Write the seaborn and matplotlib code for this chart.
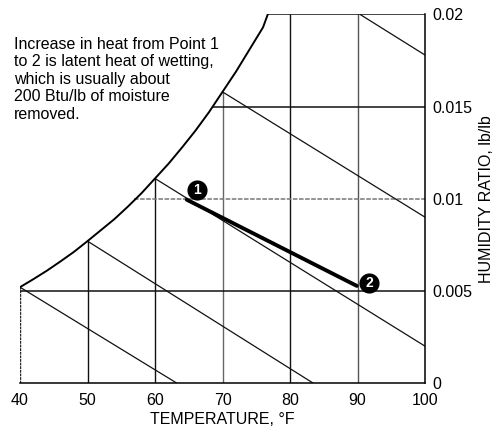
import matplotlib
matplotlib.use("Agg")
import matplotlib.pyplot as plt
import seaborn as sns

sns.set_theme(style="white")
plt.rcParams['font.family'] = ['Liberation Sans', 'DejaVu Sans']

# Saturation curve (dry bulb °F, humidity ratio lb/lb)
sat_t = [40, 42, 44, 46, 48, 50, 52, 54, 56, 58, 60, 62, 64, 66, 68, 70,
         72, 74, 76, 76.7]
sat_w = [0.0052, 0.00564, 0.0061, 0.0066, 0.00712, 0.0077, 0.0083, 0.0089,
         0.00958, 0.0103, 0.0111, 0.0119, 0.01278, 0.0137, 0.0147, 0.0158,
         0.0169, 0.0181, 0.0193, 0.0200]

# Constant dry-bulb lines: temperature and top (humidity ratio)
db_t = [40, 50, 60, 70, 80, 90]
db_top = [0.0052, 0.0077, 0.0111, 0.0158, 0.0200, 0.0200]
db_color = ['#222222', '#111111', '#111111', '#666666', '#111111', '#555555']

# Constant humidity-ratio lines: value and start temperature
hr_w = [0.005, 0.010, 0.015, 0.020]
hr_start = [40, 56.9, 68.4, 76.7]

# Wet-bulb lines: start and end points
wb_x0 = [40, 50, 60, 70, 90.4]
wb_y0 = [0.0052, 0.0077, 0.0111, 0.0158, 0.0200]
wb_x1 = [63.2, 83.4, 100, 100, 100]
wb_y1 = [0.0, 0.0, 0.0020, 0.0090, 0.0178]

# Process line (point 1 -> point 2)
proc_t = [64.7, 89.9]
proc_w = [0.00995, 0.00527]
pt_t = [66.2, 91.7]
pt_w = [0.01045, 0.00545]
pt_lbl = ['1', '2']

x_ticks = [40, 50, 60, 70, 80, 90, 100]
y_ticks = [0, 0.005, 0.01, 0.015, 0.02]
y_tick_lbl = ['0', '0.005', '0.01', '0.015', '0.02']

note = ("Increase in heat from Point 1\nto 2 is latent heat of wetting,\n"
        "which is usually about\n200 Btu/lb of moisture\nremoved.")

fig = plt.figure(figsize=(4.95, 4.30), dpi=100)
ax = fig.add_axes([20/495, 47/430, 405/495, 368.5/430])

# dry-bulb verticals
for t, top, c in zip(db_t, db_top, db_color):
    ls = (0, (2, 0.6)) if t == 40 else '-'
    ax.vlines(t, 0, top, color=c, lw=1.0, linestyles=ls)

# humidity ratio horizontals
for w, s in zip(hr_w, hr_start):
    if w == 0.010:
        ax.hlines(w, s, 100, color='#777777', lw=1.1, linestyles=(0, (3, 1)))
    else:
        ax.hlines(w, s, 100, color='#111111', lw=1.1)

# wet-bulb lines
for x0, y0, x1, y1 in zip(wb_x0, wb_y0, wb_x1, wb_y1):
    sns.lineplot(x=[x0, x1], y=[y0, y1], ax=ax, color='#111111', lw=0.9,
                 sort=False, estimator=None)

# saturation curve
sns.lineplot(x=sat_t, y=sat_w, ax=ax, color='black', lw=1.4, sort=False,
             estimator=None)

# process line
sns.lineplot(x=proc_t, y=proc_w, ax=ax, color='black', lw=2.8, sort=False,
             estimator=None)

# point markers
sns.scatterplot(x=pt_t, y=pt_w, ax=ax, color='black', s=210, linewidth=0,
                zorder=5)
for t, w, l in zip(pt_t, pt_w, pt_lbl):
    ax.text(t, w, l, color='white', fontsize=10, fontweight='bold',
            ha='center', va='center', zorder=6)

ax.set_xlim(40, 100)
ax.set_ylim(0, 0.02)
ax.set_xticks(x_ticks)
ax.set_xticklabels([str(v) for v in x_ticks])
ax.yaxis.tick_right()
ax.set_yticks(y_ticks)
ax.set_yticklabels(y_tick_lbl)
ax.tick_params(axis='both', length=0, labelsize=11.5, colors='black')
ax.tick_params(axis='x', pad=7)
ax.tick_params(axis='y', pad=5)

for side in ['top', 'left']:
    ax.spines[side].set_visible(False)
for side in ['bottom', 'right']:
    ax.spines[side].set_color('black')
    ax.spines[side].set_linewidth(1.1)
ax.set_facecolor('white')
ax.grid(False)

ax.set_xlabel('TEMPERATURE, °F', fontsize=11.5, color='black')
ax.xaxis.set_label_coords(0.5, -(420 - 383) / 368.5)
ax.xaxis.label.set_va('center')
ax.yaxis.set_label_position('right')
ax.set_ylabel('HUMIDITY RATIO, lb/lb', fontsize=11.5, color='black',
              rotation=90, va='center', ha='center')
ax.yaxis.set_label_coords((486 - 20) / 405, 0.5)

fig.text(14/495, 1 - 37/430, note, fontsize=11.5, color='black',
         ha='left', va='top', linespacing=1.2)

fig.savefig('out.png', dpi=100, facecolor='white')
